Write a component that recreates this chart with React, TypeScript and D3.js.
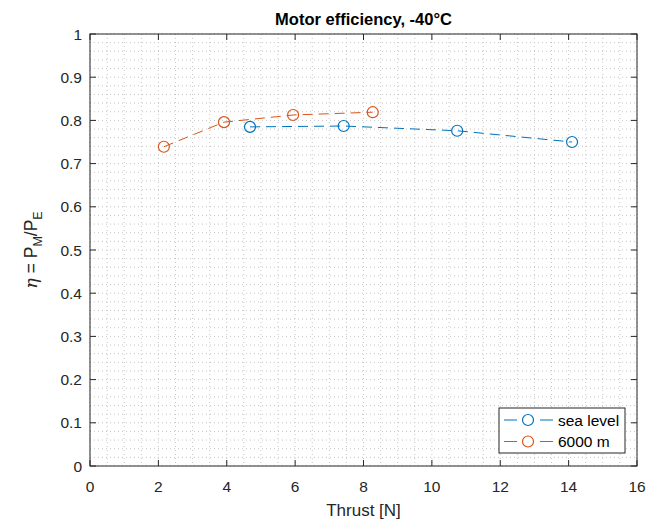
import React from "react";
import * as d3 from "d3";

const seaThrust = [4.68, 7.42, 10.74, 14.1];
const seaEff = [0.785, 0.787, 0.776, 0.75];
const altThrust = [2.16, 3.92, 5.94, 8.27];
const altEff = [0.739, 0.796, 0.8125, 0.819];
const xTicks = [0, 2, 4, 6, 8, 10, 12, 14, 16];
const yTicks = [0, 0.1, 0.2, 0.3, 0.4, 0.5, 0.6, 0.7, 0.8, 0.9, 1];
const seriesNames = ["sea level", "6000 m"];
const colors = ["#0072BD", "#D95319"];

const W = 664, H = 520;
const L = 90, R = 637, T = 34, B = 466;
const font = "'Liberation Sans', Arial, Helvetica, sans-serif";
const axisColor = "#262626";

export default function App() {
  const x = d3.scaleLinear().domain([0, 16]).range([L, R]);
  const y = d3.scaleLinear().domain([0, 1]).range([B, T]);
  const minorX = d3.range(0, 16.001, 0.5);
  const minorY = d3.range(0, 1.0001, 0.02);
  const line = d3.line<[number, number]>().x(d => x(d[0])).y(d => y(d[1]));
  const series = [
    { xs: seaThrust, ys: seaEff },
    { xs: altThrust, ys: altEff },
  ];
  return (
    <svg width={W} height={H} style={{ position: "fixed", left: 0, top: 0, background: "#fff" }} fontFamily={font}>
      <rect x={0} y={0} width={W} height={H} fill="#fff" />
      <rect x={L} y={T} width={R - L} height={B - T} fill="#fff" />
      <g stroke="#c6c6c6" strokeWidth={1} strokeDasharray="1,3">
        {minorX.map((v, i) => (
          <line key={"gx" + i} x1={x(v)} x2={x(v)} y1={T} y2={B} />
        ))}
        {minorY.map((v, i) => (
          <line key={"gy" + i} x1={L} x2={R} y1={y(v)} y2={y(v)} />
        ))}
      </g>
      {series.map((s, si) => {
        const pts = s.xs.map((v, i) => [v, s.ys[i]] as [number, number]);
        return (
          <g key={"s" + si}>
            <path d={line(pts) || ""} fill="none" stroke={colors[si]} strokeWidth={1} strokeDasharray="10,6" />
            {pts.map((p, i) => (
              <circle key={i} cx={x(p[0])} cy={y(p[1])} r={5.5} fill="none" stroke={colors[si]} strokeWidth={1.2} />
            ))}
          </g>
        );
      })}
      <g stroke={axisColor} strokeWidth={1}>
        <rect x={L} y={T} width={R - L} height={B - T} fill="none" />
        {xTicks.map((v, i) => (
          <g key={"xt" + i}>
            <line x1={x(v)} x2={x(v)} y1={B} y2={B - 6} />
            <line x1={x(v)} x2={x(v)} y1={T} y2={T + 6} />
          </g>
        ))}
        {yTicks.map((v, i) => (
          <g key={"yt" + i}>
            <line x1={L} x2={L + 6} y1={y(v)} y2={y(v)} />
            <line x1={R} x2={R - 6} y1={y(v)} y2={y(v)} />
          </g>
        ))}
      </g>
      <g fontSize={15.5} fill={axisColor}>
        {xTicks.map((v, i) => (
          <text key={"xl" + i} x={x(v)} y={492} textAnchor="middle">{v}</text>
        ))}
        {yTicks.map((v, i) => (
          <text key={"yl" + i} x={82} y={y(v) + 5.5} textAnchor="end">{v}</text>
        ))}
      </g>
      <text x={(L + R) / 2} y={25} textAnchor="middle" fontSize={16.5} fontWeight="bold" fill="#000">
        Motor efficiency, -40°C
      </text>
      <text x={(L + R) / 2} y={516} textAnchor="middle" fontSize={17} fill={axisColor}>
        Thrust [N]
      </text>
      <text transform={`translate(37,${(T + B) / 2}) rotate(-90)`} textAnchor="middle" fontSize={17.5} fill={axisColor}>
        <tspan fontStyle="italic" fontFamily="'DejaVu Serif', serif">η</tspan>
        <tspan> = P</tspan>
        <tspan fontSize={12.5} dy={5}>M</tspan>
        <tspan dy={-5}>/P</tspan>
        <tspan fontSize={12.5} dy={5}>E</tspan>
      </text>
      <g>
        <rect x={499} y={408} width={126} height={45} fill="#fff" stroke={axisColor} strokeWidth={1} />
        {seriesNames.map((n, i) => {
          const yy = 420 + i * 21.5;
          return (
            <g key={"lg" + i}>
              <line x1={504} x2={517} y1={yy} y2={yy} stroke={colors[i]} strokeWidth={1} />
              <line x1={540} x2={553} y1={yy} y2={yy} stroke={colors[i]} strokeWidth={1} />
              <circle cx={528} cy={yy} r={5.5} fill="none" stroke={colors[i]} strokeWidth={1.2} />
              <text x={558} y={yy + 5.5} fontSize={15.5} fill="#000">{n}</text>
            </g>
          );
        })}
      </g>
    </svg>
  );
}
